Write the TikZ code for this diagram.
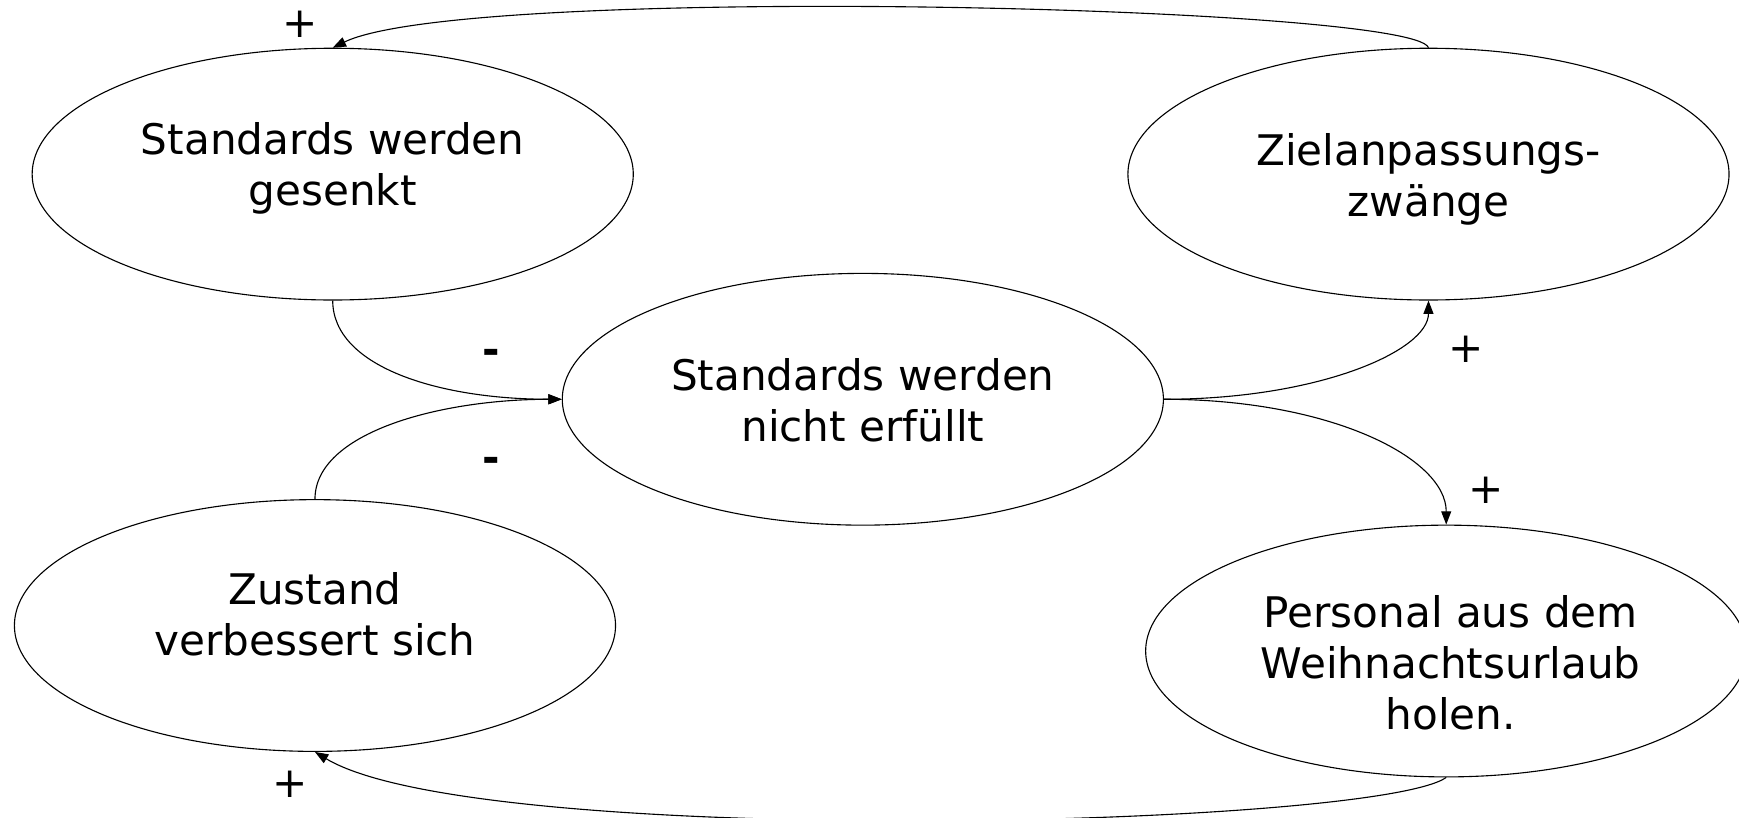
\documentclass[tikz,border=0pt]{standalone}
\usepackage{fontspec}
\setmainfont{DejaVu Sans}
\usetikzlibrary{shapes.geometric,arrows.meta}
\tikzset{
  ell/.style={draw,ellipse,line width=1pt,minimum width=542pt,minimum height=227pt,inner sep=0pt},
  txt/.style={align=center,inner sep=0pt,font=\fontsize{38}{46}\selectfont},
  sign/.style={inner sep=0pt,font=\fontsize{38}{46}\selectfont},
  conn/.style={line width=1pt,-{Triangle[length=12pt,width=9pt]}},
  plain/.style={line width=1pt}
}
\begin{document}
\begin{tikzpicture}[x=1pt,y=-1pt]
\useasboundingbox (0,0) rectangle (1568,737);
\clip (0,0) rectangle (1568,737);
\node[ell] (e1) at (300,157) {};
\node[ell] (e2) at (1288,157) {};
\node[ell] (e3) at (778,360) {};
\node[ell] (e4) at (284,564) {};
\node[ell] (e5) at (1304,587) {};
\node[txt] (t1) at (300,152) {Standards werden\\gesenkt};
\node[txt] (t2) at (1288,162) {Zielanpassungs-\\zwänge};
\node[txt] (t3) at (778,361) {Standards werden\\nicht erfüllt};
\node[txt] (t4) at (284,554) {Zustand\\verbessert sich};
\node[txt] (t5) at (1308,598) {Personal aus dem\\Weihnachtsurlaub\\holen.};
% connectors
\draw[conn] (e1.south) .. controls +(0,60) and +(-110,0) .. (e3.west);
\draw[conn] (e4.north) .. controls +(0,-60) and +(-110,0) .. (e3.west);
\draw[conn] (e3.east) .. controls +(140,0) and +(0,45) .. (e2.south);
\draw[conn] (e3.east) .. controls +(150,0) and +(0,-60) .. (e5.north);
\draw[conn] (e2.north) .. controls (1275,5) and (420,-15) .. (e1.north);
\draw[conn] (e5.south) .. controls (1240,746) and (430,766) .. (e4.south);
% signs
\node[sign] (s1) at (271,22) {+};
\node[sign] (s2) at (443,322) {\bfseries -};
\node[sign] (s3) at (443,419) {\bfseries -};
\node[sign] (s4) at (1322,315) {+};
\node[sign] (s5) at (1340,442) {+};
\node[sign] (s6) at (262,707) {+};
\end{tikzpicture}
\end{document}
